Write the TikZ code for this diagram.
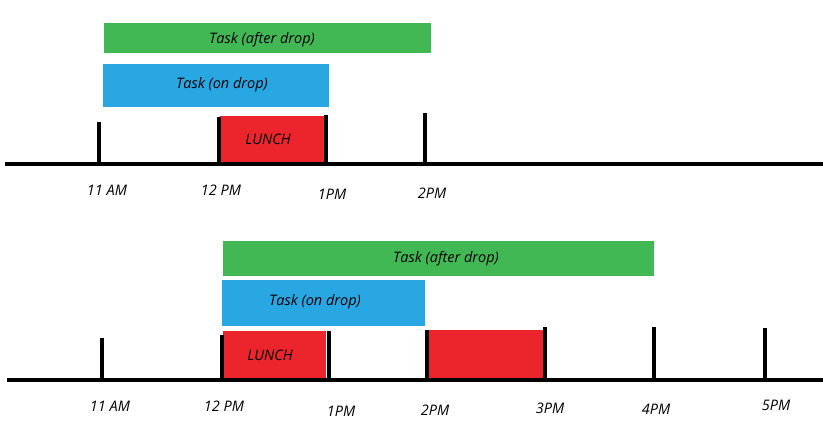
\documentclass[tikz,border=0pt]{standalone}
\usepackage{fontspec}
\setmainfont{Open Sans}
\definecolor{bargreen}{RGB}{66,184,84}
\definecolor{barblue}{RGB}{40,167,226}
\definecolor{barred}{RGB}{236,36,44}
\tikzset{
  bar/.style={rectangle, inner sep=0pt, draw=none, font=\itshape\fontsize{14.5}{17}\selectfont},
  axisline/.style={line width=4.6pt},
  tick/.style={line width=4pt},
  lbl/.style={inner sep=0pt, font=\itshape\fontsize{14.5}{17}\selectfont},
}
\begin{document}
\begin{tikzpicture}[x=1pt,y=-1pt]
\useasboundingbox (0,0) rectangle (823,442);
% ---------- top timeline ----------
\node[bar, fill=bargreen, minimum width=327, minimum height=30] (tg) at (267.5,38) {};
\node[bar] (tgt) at (262,40) {Task (after drop)};
\node[bar, fill=barblue, minimum width=226, minimum height=43] (tb) at (216,85.5) {};
\node[bar] (tbt) at (222,85) {Task (on drop)};
\node[bar, fill=barred, minimum width=104, minimum height=46] (tr) at (272,138.5) {};
\node[bar] (trt) at (268,139) {LUNCH};
\coordinate (ta0) at (5,164);
\coordinate (ta1) at (823,164);
\draw[axisline] (ta0) -- (ta1);
\coordinate (t11) at (99,164);  \coordinate (t11t) at (99,122);
\coordinate (t12) at (219,164); \coordinate (t12t) at (219,117);
\coordinate (t1) at (326,164);  \coordinate (t1t) at (326,115);
\coordinate (t2) at (425,164);  \coordinate (t2t) at (425,113);
\draw[tick] (t11) -- (t11t);
\draw[tick] (t12) -- (t12t);
\draw[tick] (t1) -- (t1t);
\draw[tick] (t2) -- (t2t);
\node[lbl] (l11) at (107,190) {11 AM};
\node[lbl] (l12) at (221,190) {12 PM};
\node[lbl] (l1) at (332,194) {1PM};
\node[lbl] (l2) at (432,193) {2PM};
% ---------- bottom timeline ----------
\node[bar, fill=bargreen, minimum width=431, minimum height=35] (bg) at (438.5,258) {};
\node[bar] (bgt) at (446,259) {Task (after drop)};
\node[bar, fill=barblue, minimum width=203, minimum height=46] (bb) at (323.5,303) {};
\node[bar] (bbt) at (315,302) {Task (on drop)};
\node[bar, fill=barred, minimum width=103, minimum height=47] (br1) at (274.5,354.5) {};
\node[bar] (br1t) at (270,355) {LUNCH};
\node[bar, fill=barred, minimum width=114, minimum height=48] (br2) at (486,354) {};
\coordinate (ba0) at (7,380);
\coordinate (ba1) at (823,380);
\draw[axisline] (ba0) -- (ba1);
\coordinate (b11) at (102,380); \coordinate (b11t) at (102,338);
\coordinate (b12) at (222,380); \coordinate (b12t) at (222,335);
\coordinate (b1) at (329,380);  \coordinate (b1t) at (329,331);
\coordinate (b2) at (427,380);  \coordinate (b2t) at (427,330);
\coordinate (b3) at (545,380);  \coordinate (b3t) at (545,327);
\coordinate (b4) at (654,380);  \coordinate (b4t) at (654,327);
\coordinate (b5) at (765,380);  \coordinate (b5t) at (765,328);
\foreach \p in {b11,b12,b1,b2,b3,b4,b5} {\draw[tick] (\p) -- (\p t);}
\node[lbl] (m11) at (110,406) {11 AM};
\node[lbl] (m12) at (224,406) {12 PM};
\node[lbl] (m1) at (341,411) {1PM};
\node[lbl] (m2) at (435,410) {2PM};
\node[lbl] (m3) at (550,408) {3PM};
\node[lbl] (m4) at (656,409) {4PM};
\node[lbl] (m5) at (776,405) {5PM};
\end{tikzpicture}
\end{document}
